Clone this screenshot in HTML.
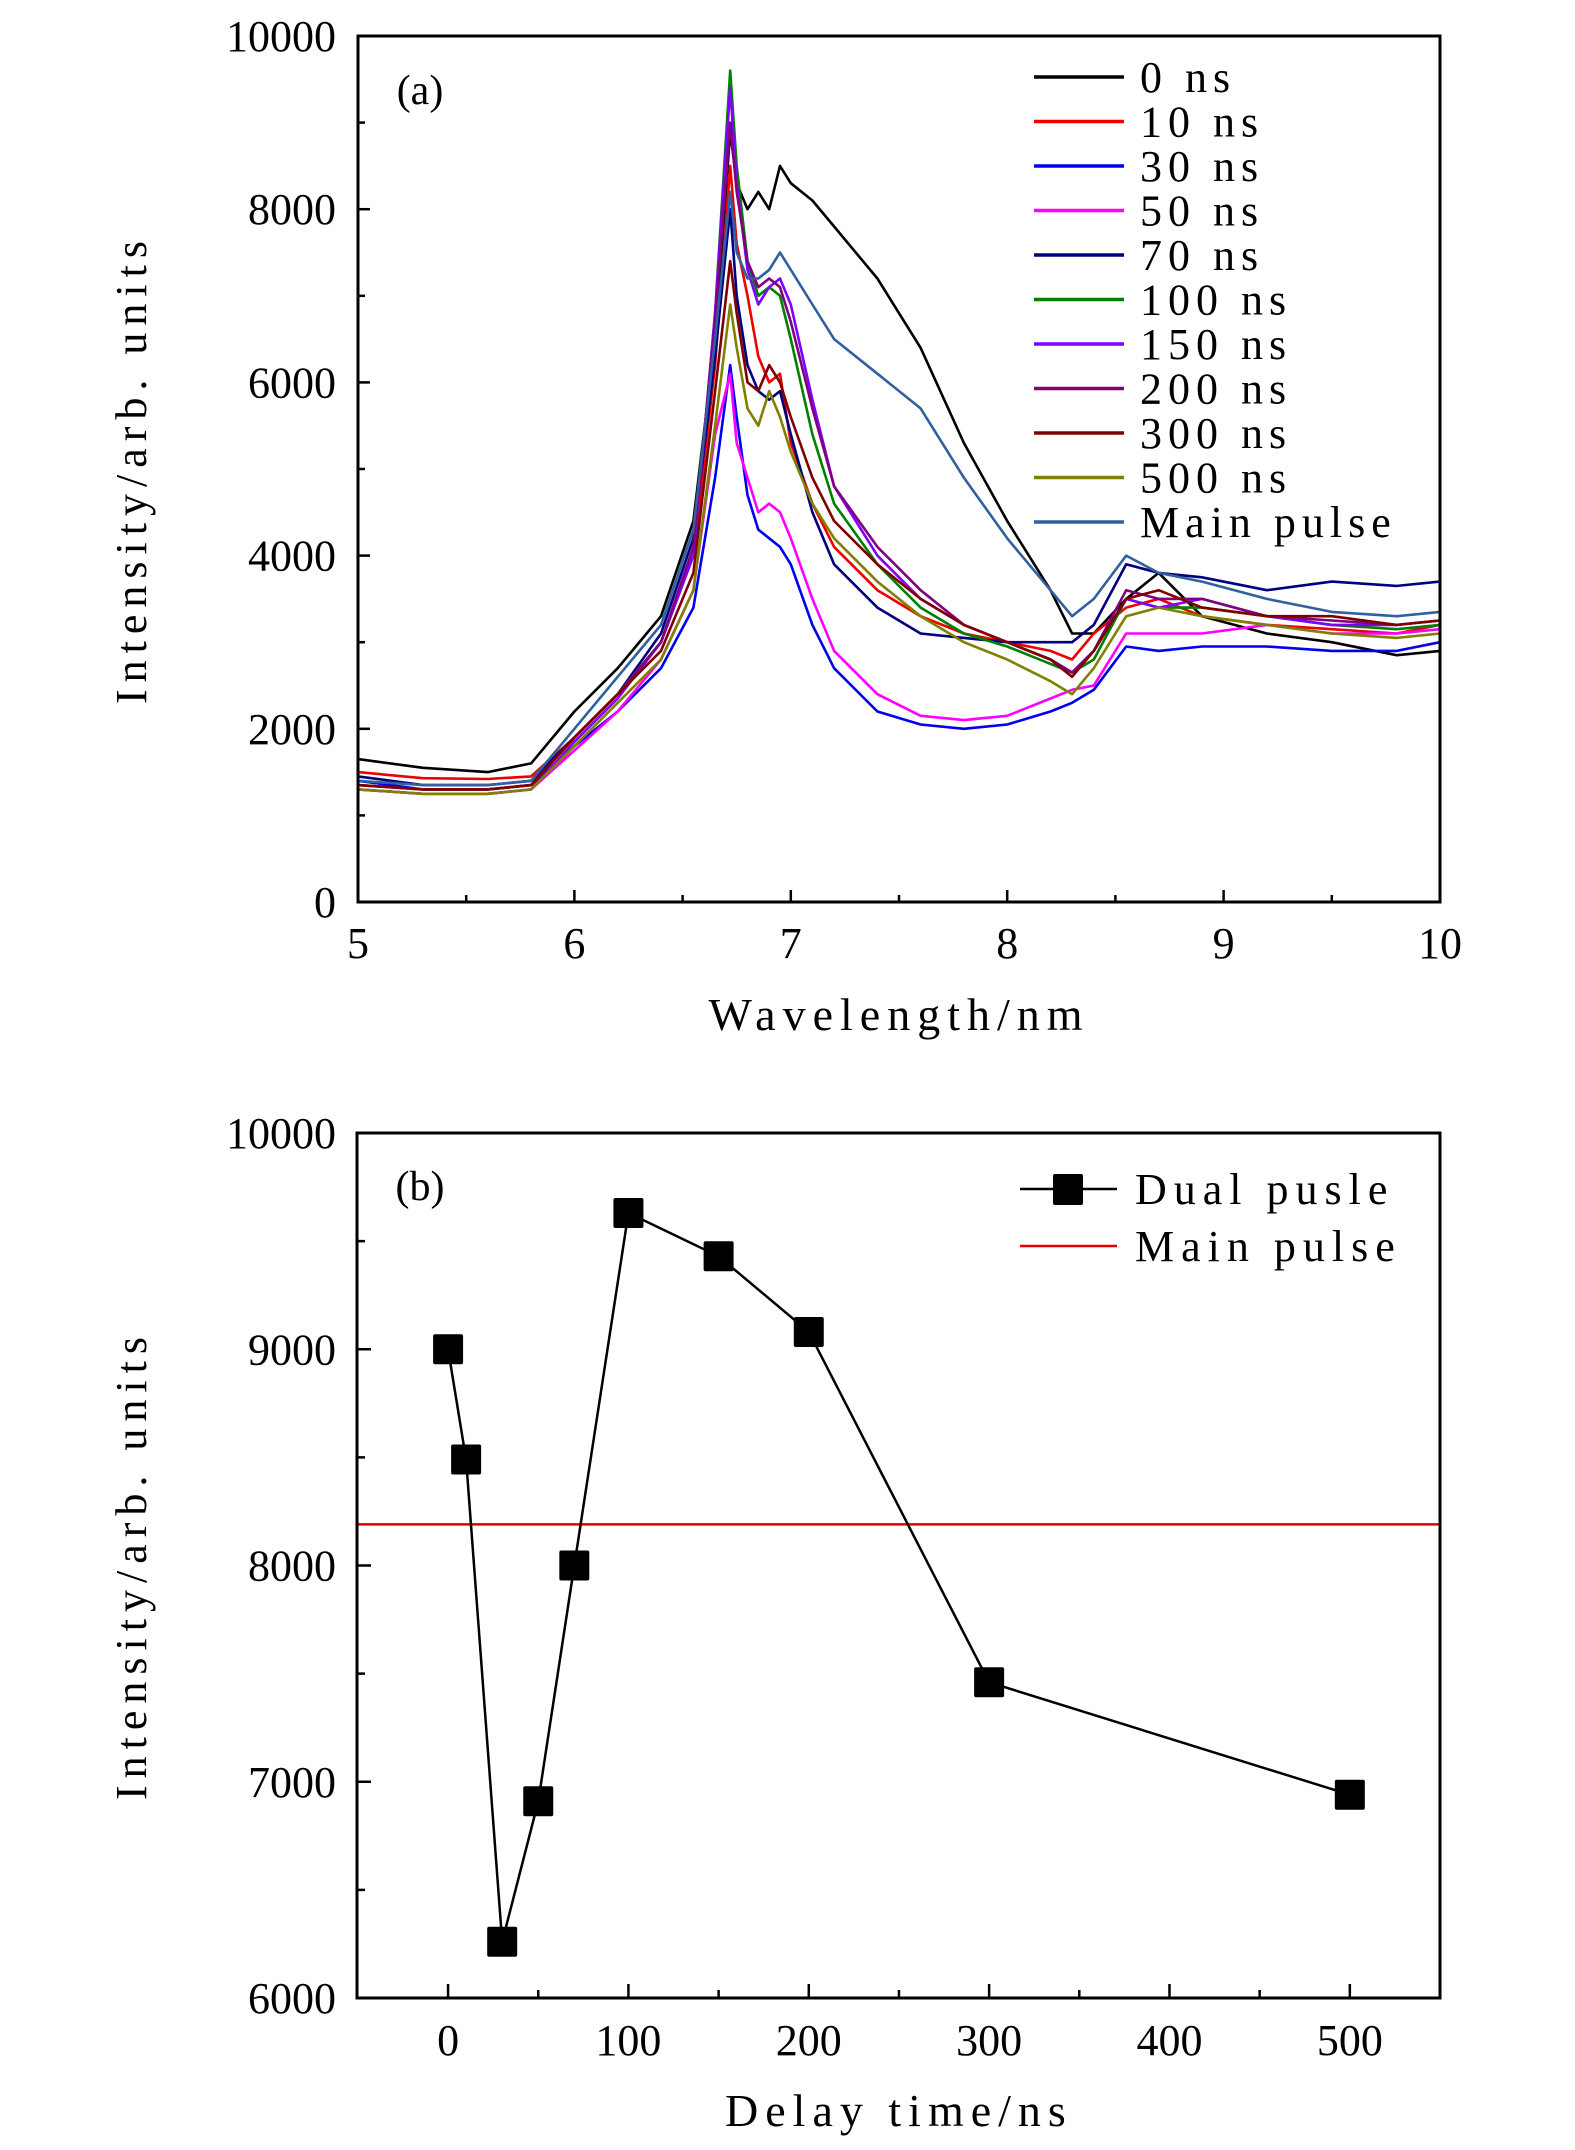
<!DOCTYPE html>
<html><head><meta charset="utf-8"><style>
html,body{margin:0;padding:0;background:#fff;}
svg{display:block;font-family:"Liberation Serif",serif;}
</style></head><body>
<svg id="fig" width="1575" height="2150" viewBox="0 0 1575 2150" xmlns="http://www.w3.org/2000/svg"></svg>
<script>
const wavelengths=[5.0,5.3,5.6,5.8,6.0,6.2,6.4,6.55,6.65,6.72,6.75,6.8,6.85,6.9,6.95,7.0,7.1,7.2,7.4,7.6,7.8,8.0,8.2,8.3,8.4,8.55,8.7,8.9,9.2,9.5,9.8,10.0];
const seriesLabels=["0 ns","10 ns","30 ns","50 ns","70 ns","100 ns","150 ns","200 ns","300 ns","500 ns","Main pulse"];
const seriesColors=["#000000","#ee0000","#0000ee","#ff00ff","#000080","#008000","#8000ff","#800080","#800000","#808000","#3060a0"];
const s0=[1650,1550,1500,1600,2200,2700,3300,4400,6500,8900,8300,8000,8200,8000,8500,8300,8100,7800,7200,6400,5300,4400,3600,3100,3100,3500,3800,3300,3100,3000,2850,2900];
const s10=[1500,1430,1420,1450,1900,2400,3000,4000,6200,8500,7600,7000,6300,6000,6100,5300,4600,4100,3600,3300,3100,3000,2900,2800,3100,3400,3500,3300,3200,3150,3100,3200];
const s30=[1400,1300,1300,1350,1800,2200,2700,3400,4900,6200,5600,4700,4300,4200,4100,3900,3200,2700,2200,2050,2000,2050,2200,2300,2450,2950,2900,2950,2950,2900,2900,3000];
const s50=[1300,1250,1250,1300,1750,2200,2800,3600,5400,6100,5300,4900,4500,4600,4500,4200,3500,2900,2400,2150,2100,2150,2350,2450,2500,3100,3100,3100,3200,3100,3100,3150];
const s70=[1450,1350,1350,1400,1900,2400,3100,4200,6300,8000,7000,6200,5900,5800,5900,5400,4500,3900,3400,3100,3050,3000,3000,3000,3200,3900,3800,3750,3600,3700,3650,3700];
const s100=[1350,1300,1300,1350,1900,2400,3000,4000,6800,9600,8500,7400,7000,7100,7000,6500,5400,4600,3900,3400,3100,2950,2750,2650,2800,3500,3400,3400,3300,3200,3150,3200];
const s150=[1300,1250,1250,1300,1850,2350,3000,4000,6800,9400,8300,7300,6900,7100,7200,6900,5800,4800,4000,3500,3200,3000,2800,2650,2900,3500,3400,3500,3300,3200,3200,3250];
const s200=[1350,1300,1300,1350,1900,2400,3000,4100,6700,9000,8200,7400,7100,7200,7100,6700,5700,4800,4100,3600,3200,3000,2800,2650,2900,3600,3500,3500,3300,3250,3200,3250];
const s300=[1350,1300,1300,1350,1900,2400,2900,3800,5900,7400,6800,6000,5900,6200,6000,5600,4900,4400,3900,3500,3200,3000,2800,2600,2900,3500,3600,3400,3300,3300,3200,3250];
const s500=[1300,1250,1250,1300,1800,2300,2800,3600,5500,6900,6400,5700,5500,5900,5600,5200,4600,4200,3700,3300,3000,2800,2550,2400,2700,3300,3400,3300,3200,3100,3050,3100];
const sMain=[1400,1350,1350,1400,2000,2600,3200,4300,6500,8200,7500,7200,7200,7300,7500,7300,6900,6500,6100,5700,4900,4200,3600,3300,3500,4000,3800,3700,3500,3350,3300,3350];
const spectra=[s0,s10,s30,s50,s70,s100,s150,s200,s300,s500,sMain];
const aXTicks=[5,6,7,8,9,10];
const aYTicks=[0,2000,4000,6000,8000,10000];
const delays=[0,10,30,50,70,100,150,200,300,500];
const peakIntensity=[9000,8490,6260,6910,8000,9630,9430,9080,7460,6940];
const mainPulseLevel=[8190];
const bXTicks=[0,100,200,300,400,500];
const bYTicks=[6000,7000,8000,9000,10000];

const NS="http://www.w3.org/2000/svg";
const svg=document.getElementById('fig');
function mk(tag,attrs,parent){const e=document.createElementNS(NS,tag);for(const k in attrs)e.setAttribute(k,attrs[k]);(parent||svg).appendChild(e);return e;}
function txt(s,x,y,size,anchor,parent){const t=mk('text',{x:x,y:y,'font-size':size,'text-anchor':anchor||'middle',fill:'#000'},parent);t.textContent=s;return t;}

// ---- Panel A ----
const A={l:358,r:1440,t:36,b:902,x0:5,x1:10,y0:0,y1:10000};
const ax=v=>A.l+(v-A.x0)/(A.x1-A.x0)*(A.r-A.l);
const ay=v=>A.b-(v-A.y0)/(A.y1-A.y0)*(A.b-A.t);
const gA=mk('g',{});


spectra.forEach((s,i)=>{
  const d=s.map((v,j)=>(j?'L':'M')+ax(wavelengths[j]).toFixed(1)+','+ay(v).toFixed(1)).join('');
  const p=mk('path',{d:d,fill:'none',stroke:seriesColors[i],'stroke-width':2.6,'stroke-linejoin':'round'},gA);
  
  
});
const fA=mk('rect',{x:A.l,y:A.t,width:A.r-A.l,height:A.b-A.t,fill:'none',stroke:'#000','stroke-width':3},gA);


aXTicks.forEach((v,i)=>{
  mk('line',{x1:ax(v),x2:ax(v),y1:A.b,y2:A.b-12,stroke:'#000','stroke-width':2.5},gA);
  if(i<aXTicks.length-1)mk('line',{x1:ax(v+0.5),x2:ax(v+0.5),y1:A.b,y2:A.b-7,stroke:'#000','stroke-width':2.5},gA);
  const t=txt(String(v),ax(v),958,44,'middle',gA);
  
  
});
aYTicks.forEach((v,i)=>{
  mk('line',{x1:A.l,x2:A.l+12,y1:ay(v),y2:ay(v),stroke:'#000','stroke-width':2.5},gA);
  if(i<aYTicks.length-1)mk('line',{x1:A.l,x2:A.l+7,y1:ay(v+1000),y2:ay(v+1000),stroke:'#000','stroke-width':2.5},gA);
  const t=txt(String(v),336,ay(v)+15,44,'end',gA);
  
  
});
let t=txt('(a)',420,104,42,'middle',gA);


t=txt('Wavelength/nm',ax(7.5),1030,46,'middle',gA);
t.setAttribute('letter-spacing','7');


t=txt('Intensity/arb. units',0,0,44,'middle',gA);
t.setAttribute('transform','translate(146,469) rotate(-90)');
t.setAttribute('letter-spacing','7');


seriesLabels.forEach((lab,i)=>{
  const y=77+i*44.5;
  const g=mk('g',{},gA);
  
  
  mk('line',{x1:1034,x2:1124,y1:y,y2:y,stroke:seriesColors[i],'stroke-width':3.5},g);
  txt(lab,1140,y+15,44,'start',g).setAttribute('letter-spacing','6');
});

// ---- Panel B ----
const B={l:357,r:1440,t:1133,b:1998,x0:-50.5,x1:550,y0:6000,y1:10000};
const bx=v=>B.l+(v-B.x0)/(B.x1-B.x0)*(B.r-B.l);
const by=v=>B.b-(v-B.y0)/(B.y1-B.y0)*(B.b-B.t);
const gB=mk('g',{});


const ml=mk('line',{x1:B.l,x2:B.r,y1:by(mainPulseLevel[0]),y2:by(mainPulseLevel[0]),stroke:'#e00000','stroke-width':2.5},gB);


const dl=mk('path',{d:delays.map((v,j)=>(j?'L':'M')+bx(v).toFixed(1)+','+by(peakIntensity[j]).toFixed(1)).join(''),fill:'none',stroke:'#000','stroke-width':2.5},gB);


delays.forEach((v,j)=>{
  const r=mk('rect',{x:bx(v)-15,y:by(peakIntensity[j])-15,width:30,height:30,rx:2,fill:'#000'},gB);
  
  
});
const fB=mk('rect',{x:B.l,y:B.t,width:B.r-B.l,height:B.b-B.t,fill:'none',stroke:'#000','stroke-width':3},gB);


bXTicks.forEach((v,i)=>{
  mk('line',{x1:bx(v),x2:bx(v),y1:B.b,y2:B.b-14,stroke:'#000','stroke-width':2.5},gB);
  mk('line',{x1:bx(v+50),x2:bx(v+50),y1:B.b,y2:B.b-8,stroke:'#000','stroke-width':2.5},gB);
  const t=txt(String(v),bx(v),2055,44,'middle',gB);
  
  
});
bYTicks.forEach((v,i)=>{
  mk('line',{x1:B.l,x2:B.l+14,y1:by(v),y2:by(v),stroke:'#000','stroke-width':2.5},gB);
  if(i<bYTicks.length-1)mk('line',{x1:B.l,x2:B.l+8,y1:by(v+500),y2:by(v+500),stroke:'#000','stroke-width':2.5},gB);
  const t=txt(String(v),336,by(v)+15,44,'end',gB);
  
  
});
t=txt('(b)',420,1200,42,'middle',gB);


t=txt('Delay time/ns',bx(250),2126,46,'middle',gB);
t.setAttribute('letter-spacing','7');


t=txt('Intensity/arb. units',0,0,44,'middle',gB);
t.setAttribute('transform','translate(146,1565) rotate(-90)');
t.setAttribute('letter-spacing','7');


let g=mk('g',{},gB);


mk('line',{x1:1020,x2:1117,y1:1189,y2:1189,stroke:'#000','stroke-width':2.5},g);
mk('rect',{x:1053,y:1174,width:30,height:31,rx:2,fill:'#000'},g);
txt('Dual pusle',1135,1204,44,'start',g).setAttribute('letter-spacing','7');
g=mk('g',{},gB);


mk('line',{x1:1020,x2:1117,y1:1246,y2:1246,stroke:'#e00000','stroke-width':2.5},g);
txt('Main pulse',1135,1261,44,'start',g).setAttribute('letter-spacing','7');
</script>
</body></html>
